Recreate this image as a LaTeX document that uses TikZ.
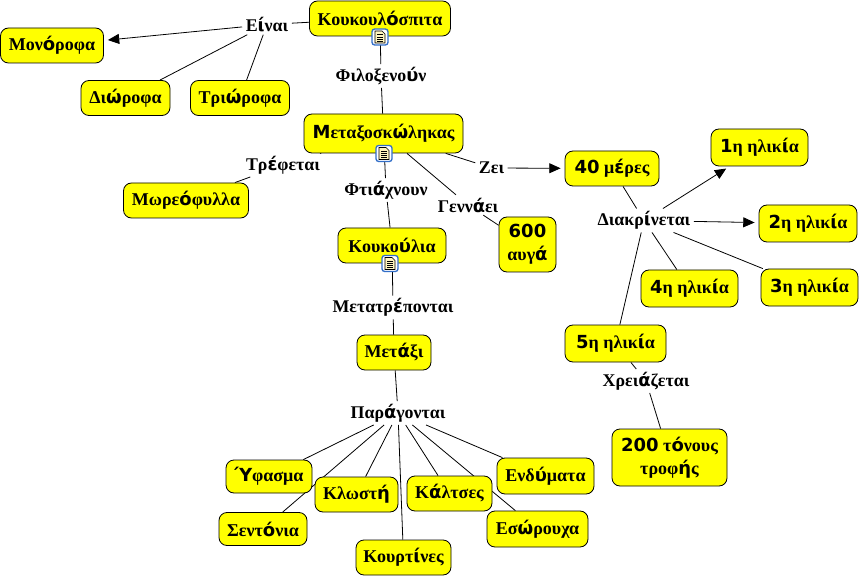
\documentclass[tikz,border=0pt]{standalone}
\usepackage{fontspec}
\setmainfont{Liberation Serif}
\newfontfamily\tonosfont{DejaVu Sans}
\usetikzlibrary{arrows.meta,backgrounds}
\definecolor{conceptyellow}{RGB}{255,255,0}
\definecolor{iconblue}{RGB}{50,110,200}
\definecolor{iconpage}{RGB}{255,245,190}
\newcommand{\tonos}[1]{{\tonosfont\bfseries #1}}
\newcommand{\tonoslg}[1]{{\tonosfont\bfseries\fontsize{13.5}{16}\selectfont #1}}

\begin{document}
\begin{tikzpicture}[
  x=0.75pt,y=-0.75pt,
  >={Triangle[length=8.5pt,width=7.5pt]},
  concept/.style={rectangle,draw=black,fill=conceptyellow,line width=0.6pt,rounded corners=6pt,inner sep=0pt,
    align=center,font=\fontsize{13.5}{17}\selectfont\bfseries},
  size/.style 2 args={minimum width=#1*0.75pt,minimum height=#2*0.75pt},
  linklab/.style={inner xsep=2.5pt,inner ysep=2pt,align=center,font=\fontsize{13.4}{16}\selectfont\bfseries},
  link/.style={line width=0.6pt,black},
  linkto/.style={link,->,shorten >=3pt},
  docicon/.pic={
    \draw[iconblue,fill=white,line width=1pt,rounded corners=2pt] (-8,-8) rectangle (8,8);
    \draw[black,fill=iconpage,line width=0.5pt] (-5,-6) -- (2,-6) -- (5,-3) -- (5,6) -- (-5,6) -- cycle;
    \draw[black,line width=0.4pt] (-3,-2.5) -- (3,-2.5) (-3,0) -- (3,0) (-3,2) -- (3,2) (-3,4) -- (3,4);
  }
]
\useasboundingbox (0,0) rectangle (860,577);

% Upper left: the cocoon houses
\node[concept,size={141}{35}] (kouk) at (380,18.5) {Κουκουλ\tonos{ό}σπιτα};
\node[concept,size={103}{35}] (mono) at (52,45.5) {Μον\tonos{ό}ροφα};
\node[concept,size={89}{35}] (dio) at (125.5,98) {Δι\tonos{ώ}ροφα};
\node[concept,size={99}{35}] (trio) at (240,98) {Τρι\tonos{ώ}ροφα};
\node[linklab] (einai) at (267,24.5) {Ε\tonos{ί}ναι};

% Centre column
\node[concept,size={159}{39}] (metax) at (383.5,133.5) {\tonos{Μ}εταξοσκ\tonos{ώ}ληκας};
\node[concept,size={125}{35}] (moreo) at (186,200.5) {Μωρε\tonos{ό}φυλλα};
\node[concept,size={108}{35}] (koukoulia) at (392,245.5) {Κουκο\tonos{ύ}λια};
\node[concept,size={74}{35}] (metaxi) at (394,352.5) {Μετ\tonos{ά}ξι};
\node[linklab] (filox) at (381,76) {Φιλοξενο\tonos{ύ}ν};
\node[linklab] (trefe) at (283,165) {Τρ\tonos{έ}φεται};
\node[linklab] (ftiax) at (386,190) {Φτι\tonos{ά}χνουν};
\node[linklab] (metatr) at (393,307.5) {Μετατρ\tonos{έ}πονται};
\node[linklab] (parag) at (398,413) {Παρ\tonos{ά}γονται};

% Right: life span and ages
\node[concept,size={94}{35}] (mers) at (612,168.5) {\tonoslg{40} μ\tonos{έ}ρες};
\node[concept,size={57}{55}] (avga) at (527.5,244.5) {\tonoslg{600} \\ αυγ\tonoslg{ά}};
\node[concept,size={97}{37}] (il1) at (759.5,147.5) {\tonoslg{1}η ηλικ\tonos{ί}α};
\node[concept,size={98}{37}] (il2) at (808,223.5) {\tonoslg{2}η ηλικ\tonos{ί}α};
\node[concept,size={97}{37}] (il3) at (809.5,287.5) {\tonoslg{3}η ηλικ\tonos{ί}α};
\node[concept,size={97}{37}] (il4) at (689.5,288.5) {\tonoslg{4}η ηλικ\tonos{ί}α};
\node[concept,size={101}{37}] (il5) at (615.5,343.5) {\tonoslg{5}η ηλικ\tonos{ί}α};
\node[concept,size={115}{57}] (tonoi) at (669.5,457.5) {\tonoslg{200} τ\tonos{ό}νους \\ τροφ\tonos{ή}ς};
\node[linklab] (zei) at (491.5,168) {Ζει};
\node[linklab] (genn) at (468,205) {Γενν\tonos{ά}ει};
\node[linklab] (diakr) at (644,220.5) {Διακρ\tonos{ί}νεται};
\node[linklab] (xreia) at (646,381) {Χρει\tonos{ά}ζεται};

% Bottom: the products
\node[concept,size={86}{33}] (yfasma) at (269,476.5) {\tonos{Ύ}φασμα};
\node[concept,size={83}{35}] (klosti) at (356.5,494.5) {Κλωστ\tonos{ή}};
\node[concept,size={85}{35}] (kaltses) at (449.5,493.5) {Κ\tonos{ά}λτσες};
\node[concept,size={97}{36}] (endym) at (545.5,476) {Ενδ\tonos{ύ}ματα};
\node[concept,size={88}{33}] (sent) at (263,529) {Σεντ\tonos{ό}νια};
\node[concept,size={101}{36}] (esor) at (537.5,529) {Εσ\tonos{ώ}ρουχα};
\node[concept,size={95}{35}] (kourt) at (403.5,557.5) {Κουρτ\tonos{ί}νες};

% Connectors go behind the boxes
\begin{scope}[on background layer]
\draw[link] (kouk) -- (einai);
\draw[linkto] (einai) -- (mono);
\draw[link] (einai) -- (dio);
\draw[link] (einai) -- (trio);
\draw[link] (kouk) -- (filox);
\draw[link] (filox) -- (metax);
\draw[link] (metax) -- (trefe);
\draw[link] (trefe) -- (moreo);
\draw[link] (metax) -- (ftiax);
\draw[link] (ftiax) -- (koukoulia);
\draw[link] (metax) -- (zei);
\draw[linkto] (zei) -- (mers);
\draw[link] (metax) -- (genn);
\draw[link] (genn) -- (avga);
\draw[link] (koukoulia) -- (metatr);
\draw[link] (metatr) -- (metaxi);
\draw[link] (metaxi) -- (parag);
\draw[link] (parag) -- (yfasma);
\draw[link] (parag) -- (sent);
\draw[link] (parag) -- (klosti);
\draw[link] (parag) -- (kourt);
\draw[link] (parag) -- (kaltses);
\draw[link] (parag) -- (esor);
\draw[link] (parag) -- (endym);
\draw[link] (mers) -- (diakr);
\draw[linkto] (diakr) -- (il1);
\draw[linkto] (diakr) -- (il2);
\draw[link] (diakr) -- (il3);
\draw[link] (diakr) -- (il4);
\draw[link] (diakr) -- (il5);
\draw[link] (il5) -- (xreia);
\draw[link] (xreia) -- (tonoi);
\end{scope}

% Note icons on the lower edge of three boxes
\pic at (380,37) {docicon};
\pic at (384,153.5) {docicon};
\pic at (390,263.5) {docicon};

\end{tikzpicture}
\end{document}
